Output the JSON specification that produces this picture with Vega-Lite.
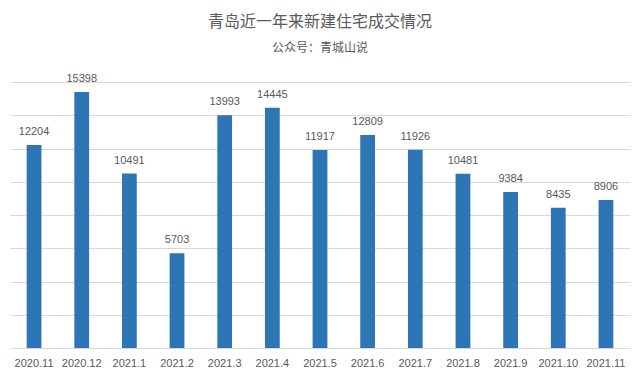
{
  "$schema": "https://vega.github.io/schema/vega-lite/v6.json",
  "autosize": "none",
  "width": 620,
  "height": 266,
  "padding": {"left": 10, "top": 82, "right": 10, "bottom": 32},
  "background": "white",
  "title": {
    "text": "青岛近一年来新建住宅成交情况",
    "subtitle": "公众号：青城山说",
    "anchor": "middle",
    "frame": "group",
    "font": "Noto Sans CJK SC",
    "fontSize": 16,
    "fontWeight": "normal",
    "color": "#595959",
    "subtitleFont": "Noto Sans CJK SC",
    "subtitleFontSize": 12,
    "subtitleColor": "#595959",
    "subtitlePadding": 13,
    "offset": 19
  },
  "data": {
    "values": [
      {"month": "2020.11", "value": 12204},
      {"month": "2020.12", "value": 15398},
      {"month": "2021.1", "value": 10491},
      {"month": "2021.2", "value": 5703},
      {"month": "2021.3", "value": 13993},
      {"month": "2021.4", "value": 14445},
      {"month": "2021.5", "value": 11917},
      {"month": "2021.6", "value": 12809},
      {"month": "2021.7", "value": 11926},
      {"month": "2021.8", "value": 10481},
      {"month": "2021.9", "value": 9384},
      {"month": "2021.10", "value": 8435},
      {"month": "2021.11", "value": 8906}
    ]
  },
  "encoding": {
    "x": {
      "field": "month",
      "type": "ordinal",
      "sort": null,
      "scale": {"paddingInner": 0.69, "paddingOuter": 0.35},
      "axis": {
        "title": null,
        "labelAngle": 0,
        "ticks": false,
        "domainColor": "#d9d9d9",
        "labelColor": "#595959",
        "labelFont": "Liberation Sans",
        "labelFontSize": 11,
        "labelPadding": 9
      }
    },
    "y": {
      "field": "value",
      "type": "quantitative",
      "scale": {"domain": [0, 16000]},
      "axis": {
        "title": null,
        "labels": false,
        "ticks": false,
        "domain": false,
        "values": [2000, 4000, 6000, 8000, 10000, 12000, 14000, 16000],
        "gridColor": "#d9d9d9"
      }
    }
  },
  "layer": [
    {"mark": {"type": "bar", "color": "#2E75B6"}},
    {
      "mark": {"type": "text", "dy": -13, "color": "#595959", "font": "Liberation Sans", "fontSize": 11},
      "encoding": {"text": {"field": "value", "type": "quantitative", "format": "d"}}
    }
  ],
  "config": {"view": {"stroke": null}}
}
